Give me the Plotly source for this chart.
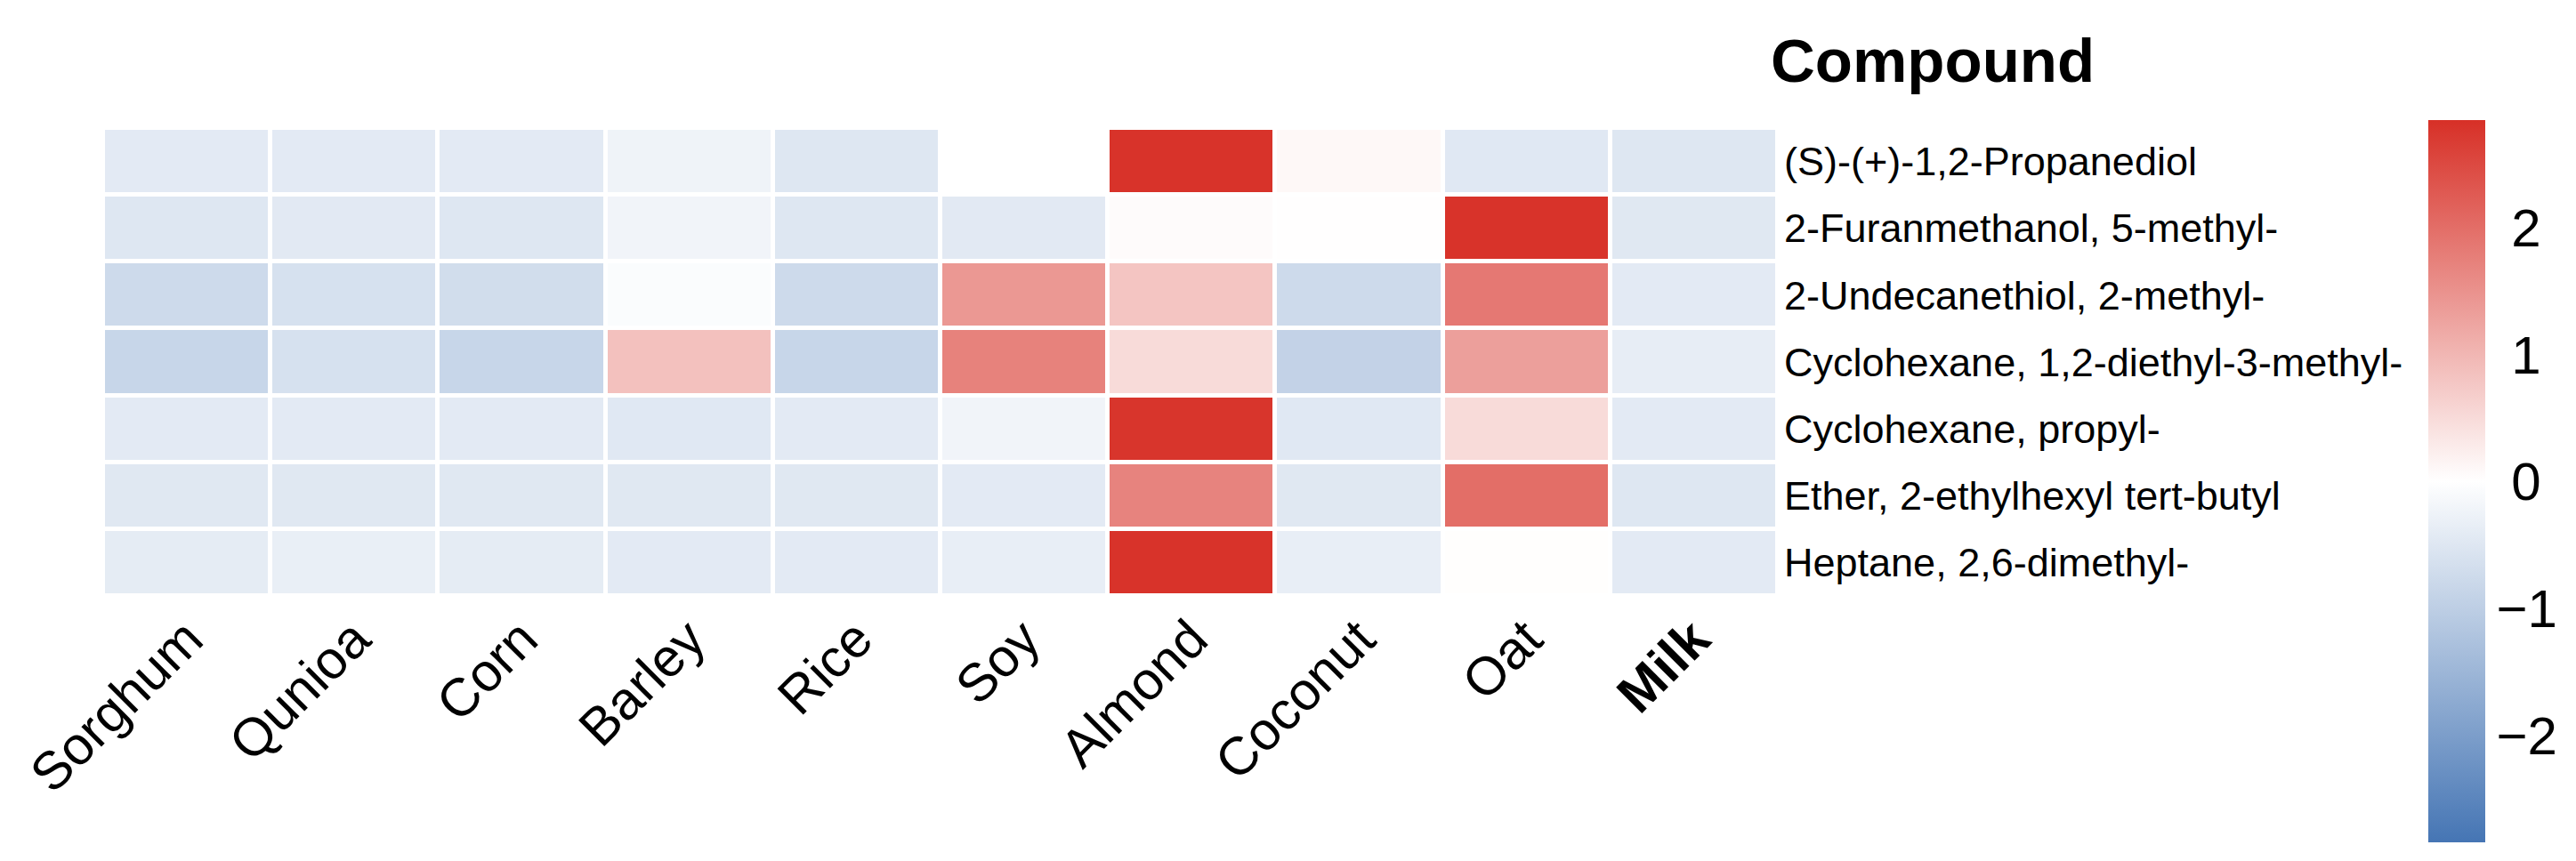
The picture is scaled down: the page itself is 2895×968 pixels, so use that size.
import plotly.graph_objects as go

samples = ["Sorghum", "Qunioa", "Corn", "Barley", "Rice", "Soy", "Almond", "Coconut", "Oat", "Milk"]
sample_labels = ["Sorghum", "Qunioa", "Corn", "Barley", "Rice", "Soy", "Almond", "Coconut", "Oat", "<b>Milk</b>"]
compounds = [
    "(S)-(+)-1,2-Propanediol",
    "2-Furanmethanol, 5-methyl-",
    "2-Undecanethiol, 2-methyl-",
    "Cyclohexane, 1,2-diethyl-3-methyl-",
    "Cyclohexane, propyl-",
    "Ether, 2-ethylhexyl tert-butyl",
    "Heptane, 2,6-dimethyl-",
]
# z-scores per compound (rows) across samples (columns)
propanediol    = [-0.43, -0.43, -0.43, -0.25, -0.50, 0.00, 2.80, 0.10, -0.47, -0.50]
furanmethanol  = [-0.50, -0.45, -0.50, -0.22, -0.50, -0.45, 0.05, 0.01, 2.80, -0.48]
undecanethiol  = [-0.77, -0.62, -0.71, -0.07, -0.77, 1.42, 0.80, -0.77, 1.85, -0.43]
cyclohex_dem   = [-0.85, -0.62, -0.85, 0.85, -0.85, 1.72, 0.50, -0.92, 1.32, -0.37]
cyclohex_prop  = [-0.43, -0.43, -0.43, -0.47, -0.43, -0.22, 2.78, -0.47, 0.50, -0.43]
ether          = [-0.48, -0.48, -0.48, -0.48, -0.48, -0.43, 1.70, -0.48, 2.00, -0.50]
heptane        = [-0.40, -0.33, -0.40, -0.43, -0.43, -0.35, 2.80, -0.35, 0.02, -0.43]
z = [propanediol, furanmethanol, undecanethiol, cyclohex_dem, cyclohex_prop, ether, heptane]
limit = 2.846
cbar_ticks = [-2, -1, 0, 1, 2]
cbar_labels = ["\u22122", "\u22121", "\u00a00", "\u00a01", "\u00a02"]

colorscale = [[0.0, "#4575B4"], [0.5, "#FFFFFF"], [1.0, "#D73027"]]

W, H = 2895, 968
PL, PR, PT, PB = 108, 1990, 136, 662
FONT = "Liberation Sans, Arial, Helvetica, sans-serif"

fig = go.Figure(go.Heatmap(
    z=z, x=samples, y=compounds,
    zmin=-limit, zmax=limit,
    colorscale=colorscale,
    xgap=5, ygap=5,
    colorbar=dict(
        thickness=64, thicknessmode="pixels",
        len=812, lenmode="pixels",
        xref="container", x=2721 / W, xanchor="left",
        yref="container", y=0.758, yanchor="top",
        xpad=0, ypad=0, outlinewidth=0,
        tickvals=cbar_ticks, ticktext=cbar_labels,
        tickfont=dict(size=60, color="black", family=FONT),
        ticks="", ticklabeloverflow="allow",
    ),
))

fig.update_layout(
    width=W, height=H,
    margin=dict(l=PL, r=W - PR, t=PT, b=H - PB),
    paper_bgcolor="white", plot_bgcolor="white",
    font=dict(family=FONT, color="black"),
    xaxis=dict(
        tickmode="array", tickvals=samples, ticktext=sample_labels,
        tickangle=-45, tickfont=dict(size=60, color="black"),
        showgrid=False, zeroline=False, showline=False, ticks="",
        automargin=False,
    ),
    yaxis=dict(
        side="right", autorange="reversed",
        tickfont=dict(size=45, color="black"),
        showgrid=False, zeroline=False, showline=False, ticks="",
        ticklabelstandoff=6, automargin=False,
    ),
    annotations=[dict(
        text="<b>Compound</b>", xref="paper", yref="paper",
        x=(1980 - PL) / (PR - PL), y=(PB - 60) / (PB - PT),
        xanchor="left", yanchor="middle", showarrow=False,
        font=dict(size=69, color="black", family=FONT),
    )],
)

fig.write_html("out.html")
